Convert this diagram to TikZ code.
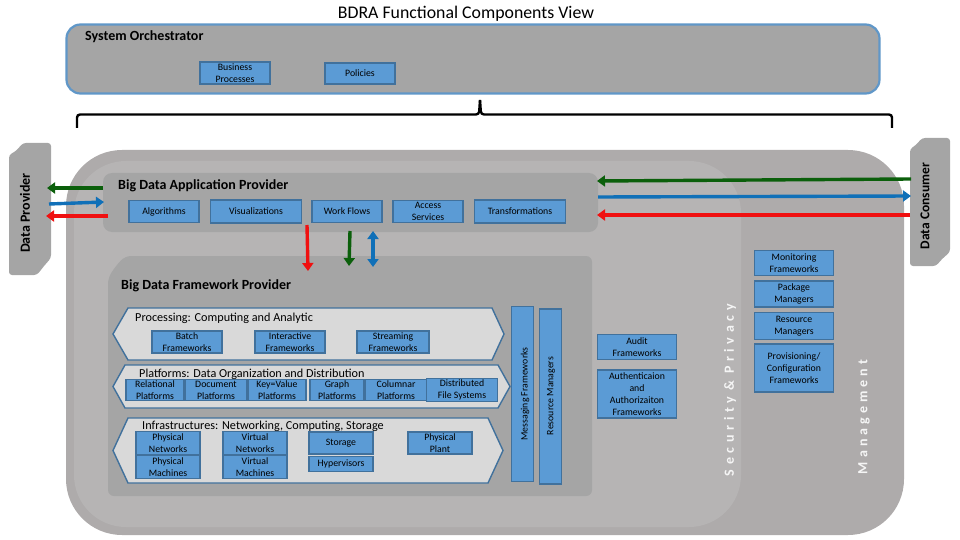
\documentclass[tikz,border=0pt]{standalone}
\usepackage{fontspec}
\setmainfont{Carlito}
\usetikzlibrary{arrows.meta, positioning}
\definecolor{mgmtgray}{HTML}{AEABAB}
\definecolor{secgray}{HTML}{B6B4B4}
\definecolor{provgray}{HTML}{A5A5A5}
\definecolor{compblue}{HTML}{5B9BD5}
\definecolor{compline}{HTML}{41719C}
\definecolor{bandgray}{HTML}{D9D9D9}
\definecolor{arrowgreen}{HTML}{0B5F0B}
\definecolor{arrowblue}{HTML}{1070B8}
\definecolor{arrowred}{HTML}{F01010}
\newcommand{\mgap}{\kern4pt}
\tikzset{
  comp/.style={draw=compline, line width=1.5pt, fill=compblue, align=center, font=\fontsize{9.8}{12}\selectfont,
    inner sep=0pt, minimum width=#1},
  comp/.default=70pt,
  head/.style={font=\fontsize{14}{16}\bfseries\selectfont, anchor=west, inner sep=0pt},
  bandtext/.style={font=\fontsize{12.2}{14}\selectfont, anchor=west, inner sep=0pt},
  bandshape/.style={draw=compline, line width=1.4pt, fill=bandgray},
  vert/.style={rotate=90, inner sep=0pt},
  flow/.style={line width=3.4pt, -{Triangle[length=8pt,width=11pt]}},
  flowboth/.style={line width=3.4pt, {Triangle[length=8pt,width=11pt]}-{Triangle[length=8pt,width=11pt]}},
  actor/.style={fill=provgray, draw=none}
}
\begin{document}
\begin{tikzpicture}[x=1pt, y=-1pt]
\useasboundingbox (0,0) rectangle (960,540);

% outer regions
\fill[mgmtgray, rounded corners=56pt] (66,150) rectangle (904,535);
\fill[secgray, rounded corners=52pt] (74,161) rectangle (741,527);
\fill[actor, rounded corners=3pt] (9,155) -- (16,151) -- (23,143) -- (51,143) -- (51,258) -- (44,266) -- (37,275) -- (9,275) -- cycle;
\fill[actor, rounded corners=3pt] (910,149) -- (916,145) -- (922,138) -- (950,138) -- (950,252) -- (942,259) -- (936,266) -- (910,266) -- cycle;

\node (title) at (466,13.5) {\fontsize{17.8}{20}\selectfont BDRA Functional Components View};

% orchestrator
\node (orch) [draw=compblue!85!gray, line width=2.2pt, fill=provgray, rounded corners=14pt, inner sep=0pt,
  minimum width=813pt, minimum height=69pt] at (473,59) {};
\node (orchT) [head] at (85,36.5) {System Orchestrator};
\node (bp) [comp, minimum height=22pt] at (235,73) {Business\\Processes};
\node (pol) [comp, minimum height=21pt] at (360,73.5) {Policies};

% brace
\coordinate (brL) at (77,128);
\coordinate (brR) at (892,128);
\coordinate (brM) at (480,100);
\draw[line width=2.4pt, rounded corners=3pt] (brL) |- (479,114.5) -- (brM);
\draw[line width=2.4pt, rounded corners=3pt] (brR) |- (481,114.5) -- (brM);

% application provider
\node (app) [fill=provgray, rounded corners=9pt, minimum width=495pt, minimum height=59pt, inner sep=0pt] at (350.5,202.5) {};
\node (appT) [head] at (118,185.5) {Big Data Application Provider};
\node (alg) [comp, minimum height=22pt] at (164,211.5) {Algorithms};
\node (vis) [comp=91pt, minimum height=23pt] at (256,211.5) {Visualizations};
\node (wf) [comp, minimum height=22pt] at (347,211.5) {Work Flows};
\node (acc) [comp, minimum height=22pt] at (428,211.5) {Access\\Services};
\node (tra) [comp=91pt, minimum height=23pt] at (520,211.5) {Transformations};

% framework provider
\fill[provgray, rounded corners=6pt] (108,278) -- (115,267) -- (125,256) -- (592,256) -- (592,496) -- (108,496) -- cycle;
\node (fwkT) [head] at (121,285.5) {Big Data Framework Provider};

% bands
\draw[bandshape] (113,334) -- (128,308) -- (492,308) -- (504,334) -- (492,360) -- (128,360) -- cycle;
\draw[bandshape] (113,386.5) -- (125,365) -- (498,365) -- (510,386.5) -- (498,408) -- (125,408) -- cycle;
\draw[bandshape] (113,450.5) -- (128,418) -- (488,418) -- (503,450.5) -- (488,483) -- (128,483) -- cycle;
\node (procT) [bandtext] at (135,318) {Processing: Computing and Analytic};
\node (platT) [bandtext] at (139,374) {Platforms: Data Organization and Distribution};
\node (infrT) [bandtext] at (142,426) {Infrastructures: Networking, Computing, Storage};

\node (batch) [comp, minimum height=22pt] at (187,342) {Batch\\Frameworks};
\node (inter) [comp, minimum height=22pt] at (290,342) {Interactive\\Frameworks};
\node (strm) [comp=72pt, minimum height=22pt] at (393,342) {Streaming\\Frameworks};

\node (rel) [comp=58pt, minimum height=21pt] at (155,390) {Relational\\Platforms};
\node (doc) [comp=62pt, minimum height=21pt] at (216,390) {Document\\Platforms};
\node (key) [comp=58pt, minimum height=21pt] at (277,390) {Key=Value\\Platforms};
\node (gra) [comp=54pt, minimum height=21pt] at (337,390) {Graph\\Platforms};
\node (col) [comp=62pt, minimum height=21pt] at (396,390) {Columnar\\Platforms};
\node (dfs) [comp=71pt, minimum height=23pt] at (462,390) {Distributed\\File Systems};

\node (pnet) [comp=64pt, minimum height=23pt] at (168,443) {Physical\\Networks};
\node (pmac) [comp=64pt, minimum height=23pt] at (168,467) {Physical\\Machines};
\node (vnet) [comp=64pt, minimum height=23pt] at (255,443) {Virtual\\Networks};
\node (vmac) [comp=64pt, minimum height=23pt] at (255,467) {Virtual\\Machines};
\node (stor) [comp=64pt, minimum height=22pt] at (341,443) {Storage};
\node (hyp) [comp=64pt, minimum height=15pt] at (341,464) {Hypervisors};
\node (plant) [comp=64pt, minimum height=22pt] at (440,443) {Physical\\Plant};

\node (msg) [comp=22pt, minimum height=175pt] at (522.5,394) {};
\node (msgT) [vert, font=\fontsize{9.8}{10}\selectfont] at (525,394) {Messaging Frameworks};
\node (res) [comp=22pt, minimum height=175pt] at (550.5,396.5) {};
\node (resT) [vert, font=\fontsize{9.8}{10}\selectfont] at (551,396) {Resource Managers};

% security and management
\node (aud) [comp=79pt, minimum height=25pt] at (637,347) {Audit\\Frameworks};
\node (auth) [comp=79pt, minimum height=48pt] at (637,394) {Authenticaion\\and\\Authorizaiton\\Frameworks};
\node (mon) [comp=79pt, minimum height=25pt] at (794,263) {Monitoring\\Frameworks};
\node (pkg) [comp=79pt, minimum height=26pt] at (794,294) {Package\\Managers};
\node (rman) [comp=79pt, minimum height=27pt] at (794,326) {Resource\\Managers};
\node (prov) [comp=79pt, minimum height=48pt] at (794,368) {Provisioning/\\Configuration\\Frameworks};
\node (secT) [vert, text=white!92!gray, font=\fontsize{14}{16}\bfseries\selectfont] at (730,390) {S\,\,e\,\,c\,\,u\,\,r\,\,i\,\,t\,\,y\ \ \&\ \ P\,\,r\,\,i\,\,v\,\,a\,\,c\,\,y};
\node (mgmT) [vert, text=white!92!gray, font=\fontsize{14}{16}\bfseries\selectfont] at (864,417) {M\mgap a\mgap n\mgap a\mgap g\mgap e\mgap m\mgap e\mgap n\mgap t};
\node (dpT) [vert, font=\fontsize{14}{16}\bfseries\selectfont] at (25,213) {Data Provider};
\node (dcT) [vert, font=\fontsize{13.5}{15}\bfseries\selectfont] at (925,206) {Data Consumer};

% flows
\coordinate (dpG) at (47,188);
\coordinate (apG) at (103,188);
\coordinate (dpB) at (49,204);
\coordinate (apB) at (104,202);
\coordinate (dpR) at (46,216);
\coordinate (apR) at (108,216);
\coordinate (dcG) at (911,179);
\coordinate (arG) at (597,181);
\coordinate (dcB) at (911,196);
\coordinate (arB) at (598,197);
\coordinate (dcR) at (910,215);
\coordinate (arR) at (597,215);
\coordinate (vRs) at (307,225);
\coordinate (vRe) at (308,271);
\coordinate (vGs) at (350,231);
\coordinate (vGe) at (349,266);
\coordinate (vBs) at (373,231);
\coordinate (vBe) at (373,267);
\draw[flow, arrowgreen] (apG) -- (dpG);
\draw[flow, arrowblue] (dpB) -- (apB);
\draw[flow, arrowred] (apR) -- (dpR);
\draw[flow, arrowgreen] (dcG) -- (arG);
\draw[flow, arrowblue] (arB) -- (dcB);
\draw[flow, arrowred] (dcR) -- (arR);
\draw[flow, arrowred] (vRs) -- (vRe);
\draw[flow, arrowgreen] (vGs) -- (vGe);
\draw[flowboth, arrowblue] (vBs) -- (vBe);
\end{tikzpicture}
\end{document}
